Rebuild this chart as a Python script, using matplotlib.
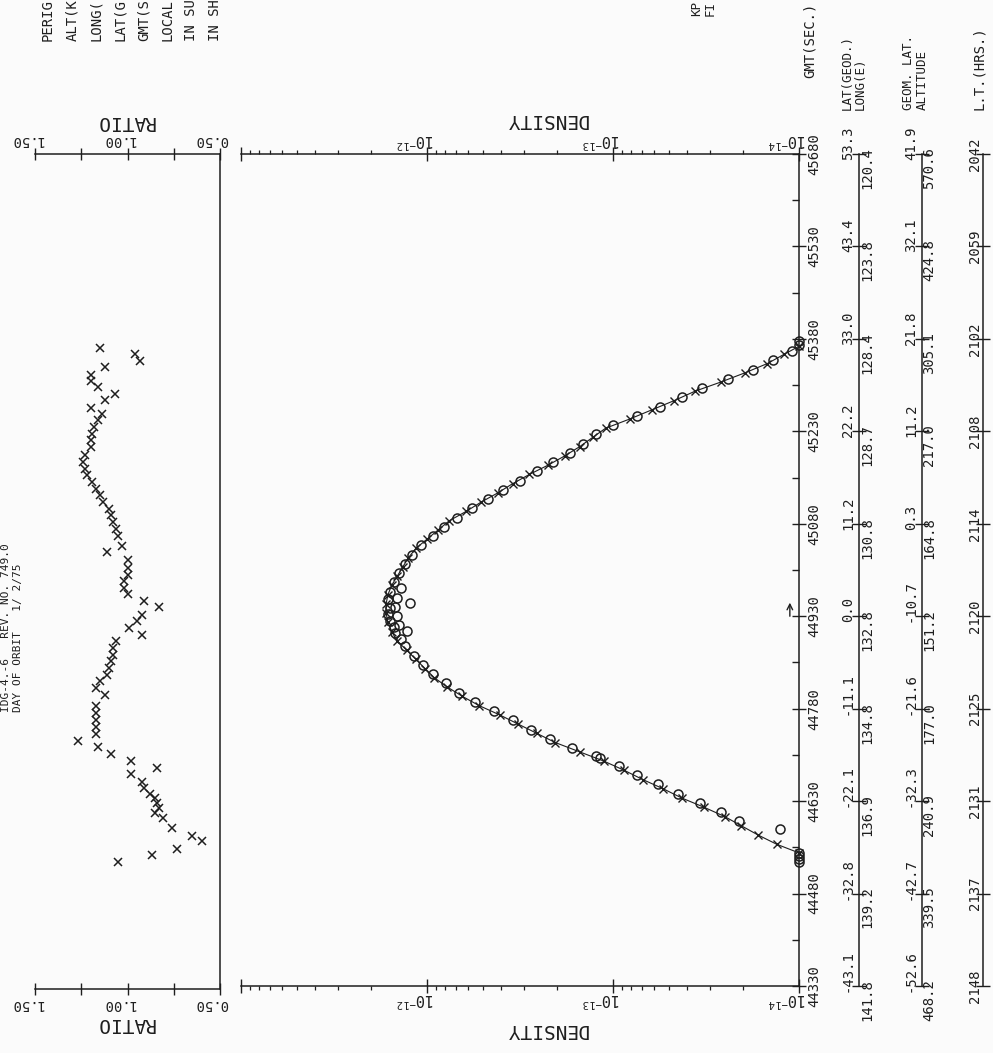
import numpy as np
import matplotlib
matplotlib.use('Agg')
import matplotlib.pyplot as plt
from matplotlib import transforms
from matplotlib.ticker import FixedLocator, LogLocator, NullFormatter

plt.rcParams['font.family'] = ['DejaVu Sans Mono']
plt.rcParams['mathtext.default'] = 'regular'

W, H = 993, 1053
INK = '#1e1e1e'

# GMT axis and orbit table
gmt_ticks = [44330, 44480, 44630, 44780, 44930, 45080, 45230, 45380, 45530, 45680]
lat_geod = ['-43.1', '-32.8', '-22.1', '-11.1', '0.0', '11.2', '22.2', '33.0', '43.4', '53.3']
long_e = ['141.8', '139.2', '136.9', '134.8', '132.8', '130.8', '128.7', '128.4', '123.8', '120.4']
geom_lat = ['-52.6', '-42.7', '-32.3', '-21.6', '-10.7', '0.3', '11.2', '21.8', '32.1', '41.9']
altitude = ['468.2', '339.5', '240.9', '177.0', '151.2', '164.8', '217.0', '305.1', '424.8', '570.6']
local_time = ['2148', '2137', '2131', '2125', '2120', '2114', '2108', '2102', '2059', '2042']
perigee_gmt = 44930

# model density (x markers joined by line), log10 values
gmt_model = [44546, 44560, 44575, 44590, 44605, 44620, 44635, 44650, 44665, 44680,
             44695, 44710, 44725, 44740, 44755, 44770, 44785, 44800, 44815, 44830,
             44845, 44860, 44875, 44890, 44905, 44920, 44935, 44950, 44965, 44980,
             44995, 45010, 45025, 45040, 45055, 45070, 45085, 45100, 45115, 45130,
             45145, 45160, 45175, 45190, 45205, 45220, 45235, 45250, 45265, 45280,
             45295, 45310, 45325, 45340, 45355, 45368]
logd_model = [-14.00, -13.88, -13.78, -13.69, -13.60, -13.49, -13.37, -13.27, -13.16, -13.06,
              -12.95, -12.82, -12.69, -12.59, -12.49, -12.39, -12.28, -12.19, -12.11, -12.04,
              -11.99, -11.94, -11.89, -11.84, -11.81, -11.79, -11.78, -11.78, -11.79, -11.81,
              -11.84, -11.87, -11.90, -11.94, -12.00, -12.06, -12.12, -12.21, -12.29, -12.38,
              -12.46, -12.55, -12.65, -12.74, -12.82, -12.89, -12.96, -13.09, -13.21, -13.33,
              -13.44, -13.58, -13.71, -13.83, -13.92, -14.00]

# measured density (open circles)
gmt_obs = [44531, 44536, 44541, 44546, 44585, 44597, 44612, 44627, 44642, 44657,
           44672, 44687, 44700, 44703, 44716, 44731, 44746, 44761, 44776, 44791,
           44806, 44821, 44836, 44851, 44866, 44881, 44893, 44903, 44906, 44913,
           44915, 44923, 44930, 44933, 44943, 44945, 44951, 44958, 44960, 44970,
           44975, 44985, 45000, 45015, 45030, 45045, 45060, 45075, 45090, 45105,
           45120, 45135, 45150, 45165, 45180, 45195, 45210, 45225, 45240, 45255,
           45270, 45285, 45300, 45315, 45330, 45345, 45360, 45370, 45376]
logd_obs = [-14.00, -14.00, -14.00, -14.00, -13.90, -13.68, -13.58, -13.47, -13.35, -13.24,
            -13.13, -13.03, -12.93, -12.91, -12.78, -12.66, -12.56, -12.46, -12.36, -12.26,
            -12.17, -12.10, -12.03, -11.98, -11.93, -11.88, -11.86, -11.83, -11.89, -11.82,
            -11.85, -11.80, -11.84, -11.79, -11.80, -11.83, -11.91, -11.79, -11.84, -11.80,
            -11.86, -11.82, -11.85, -11.88, -11.92, -11.97, -12.03, -12.09, -12.16, -12.24,
            -12.33, -12.41, -12.50, -12.59, -12.68, -12.77, -12.84, -12.91, -13.00, -13.13,
            -13.25, -13.37, -13.48, -13.62, -13.75, -13.86, -13.96, -14.00, -14.00]

# density ratio (measured / model)
gmt_ratio = [45367, 45356, 45346, 45336, 45323, 45313, 45304, 45292, 45282, 45269,
             45260, 45250, 45239, 45227, 45218, 45206, 45193, 45182, 45170, 45161,
             45149, 45138, 45128, 45117, 45106, 45096, 45085, 45073, 45063, 45047,
             45036, 45023, 45011, 45000, 44990, 44979, 44968, 44958, 44947, 44935,
             44925, 44914, 44903, 44893, 44882, 44870, 44861, 44849, 44838, 44828,
             44817, 44805, 44788, 44776, 44765, 44753, 44742, 44731, 44721, 44710,
             44698, 44687, 44677, 44664, 44655, 44646, 44638, 44630, 44622, 44614,
             44606, 44591, 44578, 44570, 44557, 44546, 44536]
ratio = [1.15, 0.96, 0.93, 1.12, 1.20, 1.20, 1.16, 1.07, 1.12, 1.20,
         1.14, 1.16, 1.18, 1.19, 1.20, 1.20, 1.23, 1.24, 1.23, 1.22,
         1.19, 1.17, 1.15, 1.13, 1.10, 1.09, 1.08, 1.06, 1.05, 1.03,
         1.11, 1.00, 1.00, 1.00, 1.02, 1.02, 1.00, 0.91, 0.83, 0.92,
         0.95, 0.99, 0.92, 1.06, 1.08, 1.08, 1.09, 1.10, 1.11, 1.15,
         1.17, 1.12, 1.17, 1.17, 1.17, 1.17, 1.17, 1.27, 1.16, 1.09,
         0.98, 0.84, 0.98, 0.92, 0.91, 0.88, 0.85, 0.84, 0.83, 0.85,
         0.81, 0.76, 0.65, 0.60, 0.73, 0.87, 1.05]

ratio_ticks = [0.5, 0.75, 1.0, 1.25, 1.5]
ratio_labels = {0.5: '0.50', 1.0: '1.00', 1.5: '1.50'}
dens_labels = {1e-12: '10$^{-12}$', 1e-13: '10$^{-13}$', 1e-14: '10$^{-14}$'}

header_left = ['PERIG', 'ALT(K', 'LONG(', 'LAT(G', 'GMT(S', 'LOCAL', 'IN SU', 'IN SH']
pass_id = 'IDG-4.-6   REV. NO. 749.0'
pass_day = 'DAY OF ORBIT   1/ 2/75'


def fbox(x0, y0, x1, y1):
    return [x0 / W, 1 - y1 / H, (x1 - x0) / W, (y1 - y0) / H]


def px(dx, dy):
    return transforms.ScaledTranslation(dx / 100, dy / 100, fig.dpi_scale_trans)


fig = plt.figure(figsize=(W / 100, H / 100), dpi=100, facecolor='#fbfbfb')

# ---- density panel ----
ax = fig.add_axes(fbox(241, 154, 799, 986))
ax.set_facecolor('none')
ax.set_xscale('log')
ax.set_xlim(1e-11, 1e-14)
ax.set_ylim(gmt_ticks[0], gmt_ticks[-1])
ax.spines['left'].set_visible(False)
for s in ['top', 'bottom', 'right']:
    ax.spines[s].set_color(INK)
    ax.spines[s].set_linewidth(1.1)

ax.xaxis.set_major_locator(FixedLocator([1e-11, 1e-12, 1e-13, 1e-14]))
ax.xaxis.set_minor_locator(LogLocator(base=10, subs=np.arange(2, 10)))
ax.xaxis.set_major_formatter(NullFormatter())
ax.xaxis.set_minor_formatter(NullFormatter())
ax.tick_params(axis='x', which='major', top=True, bottom=True, direction='inout',
               length=10, width=1, color=INK)
ax.tick_params(axis='x', which='minor', top=True, bottom=True, direction='out',
               length=3, width=0.9, color=INK)

ax.yaxis.tick_right()
ax.set_yticks(gmt_ticks)
ax.set_yticks([t + 75 for t in gmt_ticks[:-1]], minor=True)
ax.set_yticklabels([str(t) for t in gmt_ticks], rotation=90, va='center', fontsize=10, color=INK)
ax.tick_params(axis='y', which='major', direction='inout', length=10, width=1, pad=1, color=INK)
ax.tick_params(axis='y', which='minor', direction='in', length=5, width=1, color=INK)

ax.plot([10 ** v for v in logd_model], gmt_model, '-x', color=INK, lw=0.8,
        ms=6, mew=1.0, clip_on=False)
ax.plot([10 ** v for v in logd_obs], gmt_obs, 'o', mfc='none', mec=INK,
        ms=6.5, mew=1.1, clip_on=False)
ax.annotate('', xy=(1.12e-14, perigee_gmt + 22), xytext=(1.12e-14, perigee_gmt),
            arrowprops=dict(arrowstyle='->', color=INK, lw=1, shrinkA=0, shrinkB=0))

tr_top = transforms.blended_transform_factory(ax.transData, ax.transAxes)
for v, lab in dens_labels.items():
    ax.text(v, 1, lab, transform=tr_top + px(8, 4), rotation=180, ha='right', va='bottom',
            fontsize=11, color=INK)
    ax.text(v, 0, lab, transform=tr_top + px(8, -4), rotation=180, ha='right', va='top',
            fontsize=11, color=INK)
ax.text(0.547, 1, 'DENSITY', transform=ax.transAxes + px(0, 35), rotation=180,
        ha='center', va='center', fontsize=14, color=INK)
ax.text(0.547, 0, 'DENSITY', transform=ax.transAxes + px(0, -44), rotation=180,
        ha='center', va='center', fontsize=14, color=INK)

# ---- ratio panel ----
rx = fig.add_axes(fbox(35, 154, 220, 989))
rx.set_facecolor('none')
rx.set_xlim(1.5, 0.5)
rx.set_ylim(gmt_ticks[0], gmt_ticks[-1])
rx.spines['left'].set_visible(False)
for s in ['top', 'bottom', 'right']:
    rx.spines[s].set_color(INK)
    rx.spines[s].set_linewidth(1.1)
rx.set_xticks(ratio_ticks)
rx.set_xticklabels([])
rx.tick_params(axis='x', top=True, bottom=True, direction='inout', length=9, width=1, color=INK)
rx.set_yticks([])
rx.plot(ratio, gmt_ratio, 'x', color=INK, ms=6, mew=1.1)

tr_r = transforms.blended_transform_factory(rx.transData, rx.transAxes)
for v, lab in ratio_labels.items():
    rx.text(v, 1, lab, transform=tr_r + px(8, 7), rotation=180, ha='right', va='bottom',
            fontsize=10, color=INK)
    rx.text(v, 0, lab, transform=tr_r + px(8, -8), rotation=180, ha='right', va='top',
            fontsize=10, color=INK)
rx.text(1.0, 1, 'RATIO', transform=tr_r + px(-2, 32), rotation=180, ha='center',
        va='center', fontsize=14, color=INK)
rx.text(1.0, 0, 'RATIO', transform=tr_r + px(-2, -34), rotation=180, ha='center',
        va='center', fontsize=14, color=INK)

# ---- orbit table columns ----
tr_tab = transforms.blended_transform_factory(fig.transFigure, ax.transData)
for xline in [859, 922, 983]:
    cax = fig.add_axes(fbox(xline, 154, xline + 0.2, 986))
    cax.set_facecolor('none')
    cax.set_ylim(gmt_ticks[0], gmt_ticks[-1])
    cax.set_xticks([])
    for s in ['top', 'bottom', 'right']:
        cax.spines[s].set_visible(False)
    cax.spines['left'].set_color(INK)
    cax.spines['left'].set_linewidth(1.1)
    cax.set_yticks(gmt_ticks)
    cax.set_yticklabels([])
    cax.tick_params(axis='y', direction='inout', length=10, width=1, color=INK)

for t, a, b, c, d, e in zip(gmt_ticks, lat_geod, long_e, geom_lat, altitude, local_time):
    ax.text(848 / W, t, a, transform=tr_tab + px(0, -6), rotation=90, ha='center',
            va='bottom', fontsize=10, color=INK)
    ax.text(867 / W, t, b, transform=tr_tab + px(0, 7), rotation=90, ha='center',
            va='top', fontsize=10, color=INK)
    ax.text(911 / W, t, c, transform=tr_tab + px(0, -6), rotation=90, ha='center',
            va='bottom', fontsize=10, color=INK)
    ax.text(929 / W, t, d, transform=tr_tab + px(0, 7), rotation=90, ha='center',
            va='top', fontsize=10, color=INK)
    ax.text(975 / W, t, e, transform=tr_tab, rotation=90, ha='center',
            va='center', fontsize=10, color=INK)

# column headings (overprinted pairs, as on the plotter sheet)
fig.text(810 / W, 1 - 78 / H, 'GMT(SEC.)', rotation=90, ha='center', va='bottom', fontsize=10, color=INK)
fig.text(847 / W, 1 - 110 / H, 'LAT(GEOD.)', rotation=90, ha='center', va='bottom', fontsize=9, color=INK)
fig.text(860 / W, 1 - 110 / H, 'LONG(E)', rotation=90, ha='center', va='bottom', fontsize=9, color=INK)
fig.text(909 / W, 1 - 110 / H, 'GEOM. LAT.', rotation=90, ha='center', va='bottom', fontsize=9, color=INK)
fig.text(922 / W, 1 - 110 / H, 'ALTITUDE', rotation=90, ha='center', va='bottom', fontsize=9, color=INK)
fig.text(979 / W, 1 - 110 / H, 'L.T.(HRS.)', rotation=90, ha='center', va='bottom', fontsize=10, color=INK)
fig.text(697 / W, 1 - 16 / H, 'KP', rotation=90, ha='center', va='bottom', fontsize=9, color=INK)
fig.text(710 / W, 1 - 16 / H, 'FI', rotation=90, ha='center', va='bottom', fontsize=9, color=INK)

# header block (cut at the page edge)
for i, s in enumerate(header_left):
    fig.text((48 + i * 23.9) / W, 1 - 41 / H, s, rotation=90, ha='center', va='bottom',
             fontsize=10, color=INK)

# pass identification, along the left edge of the sheet
fig.text(6 / W, 1 - 712 / H, pass_id, rotation=90, ha='center', va='bottom',
         fontsize=8, color=INK)
fig.text(18 / W, 1 - 712 / H, pass_day, rotation=90, ha='center', va='bottom',
         fontsize=8, color=INK)

fig.savefig('out.png', dpi=100, facecolor=fig.get_facecolor())
